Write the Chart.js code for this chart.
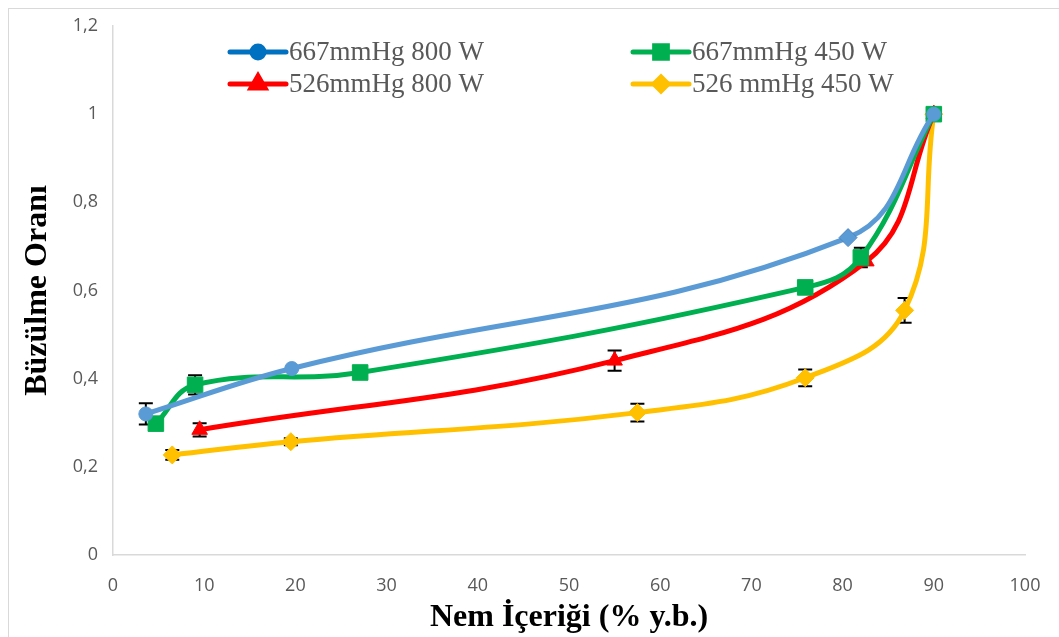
<!DOCTYPE html>
<html>
<head>
<meta charset="utf-8">
<script src="https://cdn.jsdelivr.net/npm/chart.js@4.4.1/dist/chart.umd.min.js"></script>
<style>
    html, body { margin: 0; padding: 0; background: #fff; }
    #wrap { position: relative; width: 1059px; height: 637px; }
    #frame { position: absolute; left: 8px; top: 8px; right: 0; bottom: 0; border-left: 1px solid #d9d9d9; border-top: 1px solid #d9d9d9; pointer-events: none; }
</style>
</head>
<body>
<div id="wrap">
    <canvas id="shrinkChart" width="1059" height="637"></canvas>
    <div id="frame"></div>
</div>
<script>
// Series data (moisture content % d.b. vs shrinkage ratio)
const seriesNames = ['667mmHg 800 W', '667mmHg 450 W', '526mmHg 800 W', '526 mmHg 450 W'];

const blueX = [3.6, 19.6, 80.6, 90.0];
const blueY = [0.320, 0.423, 0.720, 1.000];
const blueErr = [0.024, 0.0, 0.0, 0.0];

const greenX = [4.7, 9.0, 27.1, 75.9, 82.0, 90.0];
const greenY = [0.298, 0.386, 0.414, 0.607, 0.675, 1.000];
const greenErr = [0.0, 0.022, 0.0, 0.0, 0.022, 0.0];

const redX = [9.5, 55.0, 82.6, 90.0];
const redY = [0.284, 0.441, 0.666, 1.000];
const redErr = [0.015, 0.023, 0.0, 0.0];

const yellowX = [6.5, 19.5, 57.5, 75.9, 86.8, 90.0];
const yellowY = [0.227, 0.257, 0.323, 0.402, 0.555, 1.000];
const yellowErr = [0.011, 0.008, 0.020, 0.019, 0.028, 0.0];

const yTicks = [0, 0.2, 0.4, 0.6, 0.8, 1.0, 1.2];
const xTicks = [0, 10, 20, 30, 40, 50, 60, 70, 80, 90, 100];

function toPoints(xs, ys) {
    return xs.map((x, i) => ({ x: x, y: ys[i] }));
}

// Error bars drawn behind the series
const errorBars = {
    id: 'errorBars',
    beforeDatasetsDraw(chart) {
        const ctx = chart.ctx;
        const xs = chart.scales.x, ys = chart.scales.y;
        ctx.save();
        ctx.strokeStyle = '#000';
        ctx.lineWidth = 2;
        chart.data.datasets.forEach(ds => {
            ds.data.forEach((p, i) => {
                const e = ds.errors[i];
                if (!e) return;
                const px = xs.getPixelForValue(p.x);
                const top = ys.getPixelForValue(p.y + e);
                const bot = ys.getPixelForValue(p.y - e);
                ctx.beginPath();
                ctx.moveTo(px, top); ctx.lineTo(px, bot);
                ctx.moveTo(px - 7, top); ctx.lineTo(px + 7, top);
                ctx.moveTo(px - 7, bot); ctx.lineTo(px + 7, bot);
                ctx.stroke();
            });
        });
        ctx.restore();
    }
};

// Two-column legend inside the plot, like the original
const gridLegend = {
    id: 'gridLegend',
    afterDraw(chart) {
        const ctx = chart.ctx;
        const colX = [230, 633];
        const rowY = [52, 84];
        ctx.save();
        chart.data.datasets.forEach((ds, i) => {
            const x = colX[i % 2], y = rowY[Math.floor(i / 2)];
            ctx.strokeStyle = ds.legendColor;
            ctx.lineWidth = 5;
            ctx.lineCap = 'round';
            ctx.beginPath();
            ctx.moveTo(x, y); ctx.lineTo(x + 56, y);
            ctx.stroke();
            ctx.fillStyle = ds.legendColor;
            ctx.strokeStyle = ds.legendColor;
            Chart.helpers.drawPoint(ctx, { pointStyle: ds.legendStyle, radius: ds.legendRadius, borderWidth: 1, rotation: 0 }, x + 28, y);
            ctx.fillStyle = '#595959';
            ctx.font = '27px "Liberation Serif", "Times New Roman", serif';
            ctx.textBaseline = 'middle';
            ctx.textAlign = 'left';
            ctx.fillText(ds.label, x + 59, y + 1);
        });
        ctx.restore();
    }
};

const ctx = document.getElementById('shrinkChart').getContext('2d');
const shrinkChart = new Chart(ctx, {
    type: 'line',
    data: {
        datasets: [{
            label: seriesNames[0],
            data: toPoints(blueX, blueY),
            errors: blueErr,
            borderColor: '#5B9BD5',
            backgroundColor: '#5B9BD5',
            pointBorderColor: ['#5B9BD5', '#5B9BD5', '#4A86C0', '#5B9BD5'],
            pointStyle: ['circle', 'circle', 'rectRot', 'circle'],
            pointRadius: [7, 7, 9, 7],
            legendColor: '#0070C0', legendStyle: 'circle', legendRadius: 6
        }, {
            label: seriesNames[1],
            data: toPoints(greenX, greenY),
            errors: greenErr,
            borderColor: '#00B050',
            backgroundColor: '#00B050',
            pointStyle: 'rect',
            pointRadius: 11,
            legendColor: '#00B050', legendStyle: 'rect', legendRadius: 9
        }, {
            label: seriesNames[2],
            data: toPoints(redX, redY),
            errors: redErr,
            borderColor: '#FF0000',
            backgroundColor: '#FF0000',
            pointStyle: 'triangle',
            pointRadius: 9,
            legendColor: '#FF0000', legendStyle: 'triangle', legendRadius: 8
        }, {
            label: seriesNames[3],
            data: toPoints(yellowX, yellowY),
            errors: yellowErr,
            borderColor: '#FFC000',
            backgroundColor: '#FFC000',
            pointStyle: 'rectRot',
            pointRadius: 9,
            legendColor: '#FFC000', legendStyle: 'rectRot', legendRadius: 7
        }]
    },
    options: {
        responsive: false,
        animation: false,
        datasets: {
            line: { borderWidth: 5, tension: 0.4, fill: false, pointBorderWidth: 1 }
        },
        layout: { padding: { left: 10, right: 34, top: 26, bottom: 0 } },
        plugins: {
            legend: { display: false },
            tooltip: { enabled: false }
        },
        scales: {
            x: {
                type: 'linear',
                min: 0, max: 100,
                afterFit: s => { s.height = 82; s.paddingRight = 0; s.paddingLeft = 0; },
                afterBuildTicks: s => { s.ticks = xTicks.map(v => ({ value: v })); },
                grid: { display: false, drawTicks: false },
                border: { display: true, color: '#d9d9d9', width: 1.5 },
                ticks: { padding: 20, color: '#595959', font: { family: 'Open Sans', size: 18 } },
                title: {
                    display: true,
                    text: 'Nem İçeriği (% y.b.)',
                    color: '#000',
                    padding: { top: 0, bottom: 0 },
                    font: { family: 'Liberation Serif', size: 32, weight: 'bold' }
                }
            },
            y: {
                min: 0, max: 1.2,
                afterFit: s => { s.width = 103; },
                afterBuildTicks: s => { s.ticks = yTicks.map(v => ({ value: v })); },
                grid: { display: false, drawTicks: false },
                border: { display: true, color: '#d9d9d9', width: 1.5 },
                ticks: {
                    padding: 15,
                    color: '#595959',
                    font: { family: 'Open Sans', size: 18 },
                    callback: v => String(Number(v.toFixed(1))).replace('.', ',')
                },
                title: {
                    display: true,
                    text: 'Büzülme Oranı',
                    color: '#000',
                    padding: { top: 9, bottom: 0 },
                    font: { family: 'Liberation Serif', size: 32, weight: 'bold' }
                }
            }
        }
    },
    plugins: [errorBars, gridLegend]
});
</script>
</body>
</html>
